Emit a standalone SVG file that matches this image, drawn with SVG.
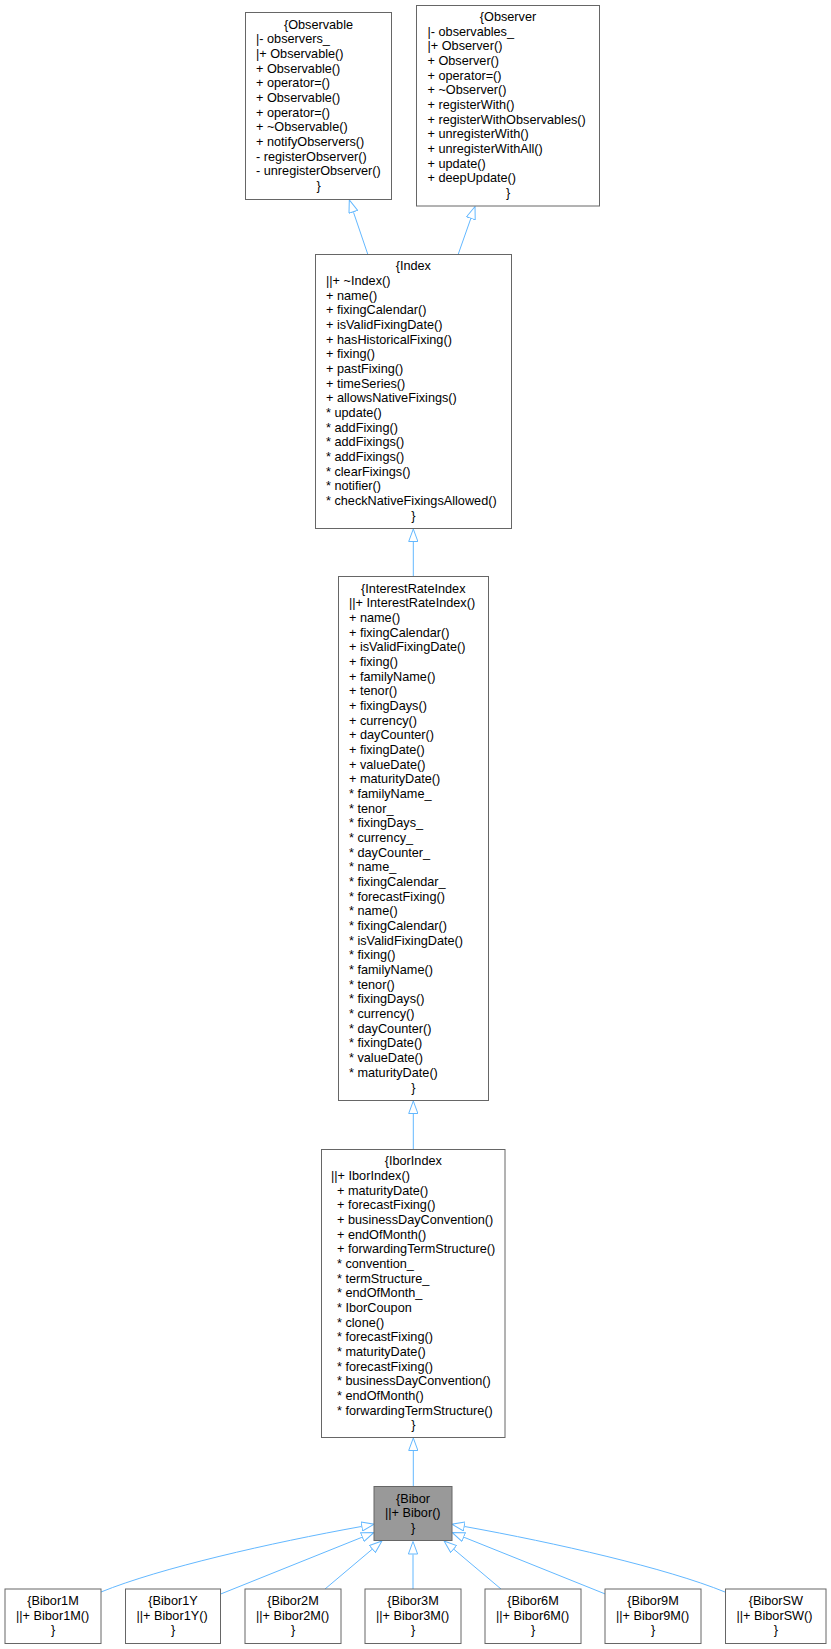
<svg xmlns="http://www.w3.org/2000/svg" width="831" height="1649" viewBox="0 0 831 1649">
  <defs>
    <style>
      text { font-family: "Liberation Sans", Arial, sans-serif; font-size: 12.7px; fill: #000; }
      .c { text-anchor: middle; }
      .l { text-anchor: start; }
      .box { fill: #ffffff; stroke: #666666; stroke-width: 1; }
      .cur { fill: #999999; stroke: #666666; stroke-width: 1; }
      .edge { fill: none; stroke: #63b8ff; stroke-width: 1; marker-end: url(#inherit); }
    </style>
    <!-- hollow triangle for inheritance -->
    <marker id="inherit" viewBox="0 0 14 10" refX="0" refY="5" markerWidth="14" markerHeight="10" markerUnits="userSpaceOnUse" orient="auto">
      <path d="M0.5,0.4 L13,5 L0.5,9.6 Z" fill="#ffffff" stroke="#63b8ff" stroke-width="1"/>
    </marker>
  </defs>
  <rect width="831" height="1649" fill="#ffffff"/>

  <g id="edges">
    <path class="edge" d="M367.7,254 L353.5,212.3"/>
    <path class="edge" d="M458.3,254 L470.7,218.8"/>
    <path class="edge" d="M413.3,576.5 L413.3,542"/>
    <path class="edge" d="M413.3,1149 L413.3,1114"/>
    <path class="edge" d="M413.3,1486 L413.3,1451"/>
    <path class="edge" d="M101,1592 C160,1568 270,1543 361.3,1526.5"/>
    <path class="edge" d="M220.7,1594 L361.9,1537.3"/>
    <path class="edge" d="M325,1589 L372,1549.4"/>
    <path class="edge" d="M413,1589 L413,1554.5"/>
    <path class="edge" d="M501,1589 L454,1549.4"/>
    <path class="edge" d="M605.3,1594 L464.1,1537.3"/>
    <path class="edge" d="M725,1592 C666,1568 556,1543 464.7,1526.5"/>
  </g>

  <g id="Observable">
    <rect class="box" x="245.5" y="12.5" width="146" height="187"/>
    <text class="c" x="318.5" y="28.5">{Observable</text>
    <text class="l" y="28.5">
      <tspan x="256" dy="14.67">|- observers_</tspan>
      <tspan x="256" dy="14.67">|+ Observable()</tspan>
      <tspan x="256" dy="14.67">+ Observable()</tspan>
      <tspan x="256" dy="14.67">+ operator=()</tspan>
      <tspan x="256" dy="14.67">+ Observable()</tspan>
      <tspan x="256" dy="14.67">+ operator=()</tspan>
      <tspan x="256" dy="14.67">+ ~Observable()</tspan>
      <tspan x="256" dy="14.67">+ notifyObservers()</tspan>
      <tspan x="256" dy="14.67">- registerObserver()</tspan>
      <tspan x="256" dy="14.67">- unregisterObserver()</tspan>
    </text>
    <text class="c" x="318.5" y="189.9">}</text>
  </g>

  <g id="Observer">
    <rect class="box" x="416.5" y="5.5" width="183" height="200.5"/>
    <text class="c" x="508" y="21">{Observer</text>
    <text class="l" y="21">
      <tspan x="427.5" dy="14.67">|- observables_</tspan>
      <tspan x="427.5" dy="14.67">|+ Observer()</tspan>
      <tspan x="427.5" dy="14.67">+ Observer()</tspan>
      <tspan x="427.5" dy="14.67">+ operator=()</tspan>
      <tspan x="427.5" dy="14.67">+ ~Observer()</tspan>
      <tspan x="427.5" dy="14.67">+ registerWith()</tspan>
      <tspan x="427.5" dy="14.67">+ registerWithObservables()</tspan>
      <tspan x="427.5" dy="14.67">+ unregisterWith()</tspan>
      <tspan x="427.5" dy="14.67">+ unregisterWithAll()</tspan>
      <tspan x="427.5" dy="14.67">+ update()</tspan>
      <tspan x="427.5" dy="14.67">+ deepUpdate()</tspan>
    </text>
    <text class="c" x="508" y="197">}</text>
  </g>

  <g id="Index">
    <rect class="box" x="315.5" y="254.5" width="196" height="274"/>
    <text class="c" x="413.3" y="270.3">{Index</text>
    <text class="l" y="270.3">
      <tspan x="326" dy="14.67">||+ ~Index()</tspan>
      <tspan x="326" dy="14.67">+ name()</tspan>
      <tspan x="326" dy="14.67">+ fixingCalendar()</tspan>
      <tspan x="326" dy="14.67">+ isValidFixingDate()</tspan>
      <tspan x="326" dy="14.67">+ hasHistoricalFixing()</tspan>
      <tspan x="326" dy="14.67">+ fixing()</tspan>
      <tspan x="326" dy="14.67">+ pastFixing()</tspan>
      <tspan x="326" dy="14.67">+ timeSeries()</tspan>
      <tspan x="326" dy="14.67">+ allowsNativeFixings()</tspan>
      <tspan x="326" dy="14.67">* update()</tspan>
      <tspan x="326" dy="14.67">* addFixing()</tspan>
      <tspan x="326" dy="14.67">* addFixings()</tspan>
      <tspan x="326" dy="14.67">* addFixings()</tspan>
      <tspan x="326" dy="14.67">* clearFixings()</tspan>
      <tspan x="326" dy="14.67">* notifier()</tspan>
      <tspan x="326" dy="14.67">* checkNativeFixingsAllowed()</tspan>
    </text>
    <text class="c" x="413.3" y="519.7">}</text>
  </g>

  <g id="InterestRateIndex">
    <rect class="box" x="338.5" y="576.5" width="150" height="524"/>
    <text class="c" x="413.3" y="592.7">{InterestRateIndex</text>
    <text class="l" y="592.7">
      <tspan x="349" dy="14.67">||+ InterestRateIndex()</tspan>
      <tspan x="349" dy="14.67">+ name()</tspan>
      <tspan x="349" dy="14.67">+ fixingCalendar()</tspan>
      <tspan x="349" dy="14.67">+ isValidFixingDate()</tspan>
      <tspan x="349" dy="14.67">+ fixing()</tspan>
      <tspan x="349" dy="14.67">+ familyName()</tspan>
      <tspan x="349" dy="14.67">+ tenor()</tspan>
      <tspan x="349" dy="14.67">+ fixingDays()</tspan>
      <tspan x="349" dy="14.67">+ currency()</tspan>
      <tspan x="349" dy="14.67">+ dayCounter()</tspan>
      <tspan x="349" dy="14.67">+ fixingDate()</tspan>
      <tspan x="349" dy="14.67">+ valueDate()</tspan>
      <tspan x="349" dy="14.67">+ maturityDate()</tspan>
      <tspan x="349" dy="14.67">* familyName_</tspan>
      <tspan x="349" dy="14.67">* tenor_</tspan>
      <tspan x="349" dy="14.67">* fixingDays_</tspan>
      <tspan x="349" dy="14.67">* currency_</tspan>
      <tspan x="349" dy="14.67">* dayCounter_</tspan>
      <tspan x="349" dy="14.67">* name_</tspan>
      <tspan x="349" dy="14.67">* fixingCalendar_</tspan>
      <tspan x="349" dy="14.67">* forecastFixing()</tspan>
      <tspan x="349" dy="14.67">* name()</tspan>
      <tspan x="349" dy="14.67">* fixingCalendar()</tspan>
      <tspan x="349" dy="14.67">* isValidFixingDate()</tspan>
      <tspan x="349" dy="14.67">* fixing()</tspan>
      <tspan x="349" dy="14.67">* familyName()</tspan>
      <tspan x="349" dy="14.67">* tenor()</tspan>
      <tspan x="349" dy="14.67">* fixingDays()</tspan>
      <tspan x="349" dy="14.67">* currency()</tspan>
      <tspan x="349" dy="14.67">* dayCounter()</tspan>
      <tspan x="349" dy="14.67">* fixingDate()</tspan>
      <tspan x="349" dy="14.67">* valueDate()</tspan>
      <tspan x="349" dy="14.67">* maturityDate()</tspan>
    </text>
    <text class="c" x="413.3" y="1091.5">}</text>
  </g>

  <g id="IborIndex">
    <rect class="box" x="321.5" y="1149.5" width="183.5" height="288"/>
    <text class="c" x="413.3" y="1165.3">{IborIndex</text>
    <text class="l" y="1165.3">
      <tspan x="331" dy="14.67">||+ IborIndex()</tspan>
      <tspan x="337" dy="14.67">+ maturityDate()</tspan>
      <tspan x="337" dy="14.67">+ forecastFixing()</tspan>
      <tspan x="337" dy="14.67">+ businessDayConvention()</tspan>
      <tspan x="337" dy="14.67">+ endOfMonth()</tspan>
      <tspan x="337" dy="14.67">+ forwardingTermStructure()</tspan>
      <tspan x="337" dy="14.67">* convention_</tspan>
      <tspan x="337" dy="14.67">* termStructure_</tspan>
      <tspan x="337" dy="14.67">* endOfMonth_</tspan>
      <tspan x="337" dy="14.67">* IborCoupon</tspan>
      <tspan x="337" dy="14.67">* clone()</tspan>
      <tspan x="337" dy="14.67">* forecastFixing()</tspan>
      <tspan x="337" dy="14.67">* maturityDate()</tspan>
      <tspan x="337" dy="14.67">* forecastFixing()</tspan>
      <tspan x="337" dy="14.67">* businessDayConvention()</tspan>
      <tspan x="337" dy="14.67">* endOfMonth()</tspan>
      <tspan x="337" dy="14.67">* forwardingTermStructure()</tspan>
    </text>
    <text class="c" x="413.3" y="1429.4">}</text>
  </g>

  <g id="Bibor">
    <rect class="cur" x="374" y="1486.5" width="78" height="54"/>
    <text class="c" x="413" y="1502.5">{Bibor</text>
    <text class="l" x="385" y="1517.2">||+ Bibor()</text>
    <text class="c" x="413" y="1531.8">}</text>
  </g>

  <g id="Bibor1M">
    <rect class="box" x="5" y="1589" width="96" height="54.5"/>
    <text class="c" x="53" y="1605">{Bibor1M</text>
    <text class="l" x="16" y="1619.7">||+ Bibor1M()</text>
    <text class="c" x="53" y="1634.3">}</text>
  </g>

  <g id="Bibor1Y">
    <rect class="box" x="125.5" y="1589" width="95" height="54.5"/>
    <text class="c" x="173" y="1605">{Bibor1Y</text>
    <text class="l" x="136.5" y="1619.7">||+ Bibor1Y()</text>
    <text class="c" x="173" y="1634.3">}</text>
  </g>

  <g id="Bibor2M">
    <rect class="box" x="245" y="1589" width="96" height="54.5"/>
    <text class="c" x="293" y="1605">{Bibor2M</text>
    <text class="l" x="256" y="1619.7">||+ Bibor2M()</text>
    <text class="c" x="293" y="1634.3">}</text>
  </g>

  <g id="Bibor3M">
    <rect class="box" x="365" y="1589" width="96" height="54.5"/>
    <text class="c" x="413" y="1605">{Bibor3M</text>
    <text class="l" x="376" y="1619.7">||+ Bibor3M()</text>
    <text class="c" x="413" y="1634.3">}</text>
  </g>

  <g id="Bibor6M">
    <rect class="box" x="485" y="1589" width="96" height="54.5"/>
    <text class="c" x="533" y="1605">{Bibor6M</text>
    <text class="l" x="496" y="1619.7">||+ Bibor6M()</text>
    <text class="c" x="533" y="1634.3">}</text>
  </g>

  <g id="Bibor9M">
    <rect class="box" x="605" y="1589" width="96" height="54.5"/>
    <text class="c" x="653" y="1605">{Bibor9M</text>
    <text class="l" x="616" y="1619.7">||+ Bibor9M()</text>
    <text class="c" x="653" y="1634.3">}</text>
  </g>

  <g id="BiborSW">
    <rect class="box" x="725.5" y="1589" width="100.5" height="54.5"/>
    <text class="c" x="775.8" y="1605">{BiborSW</text>
    <text class="l" x="736.5" y="1619.7">||+ BiborSW()</text>
    <text class="c" x="775.8" y="1634.3">}</text>
  </g>
</svg>
